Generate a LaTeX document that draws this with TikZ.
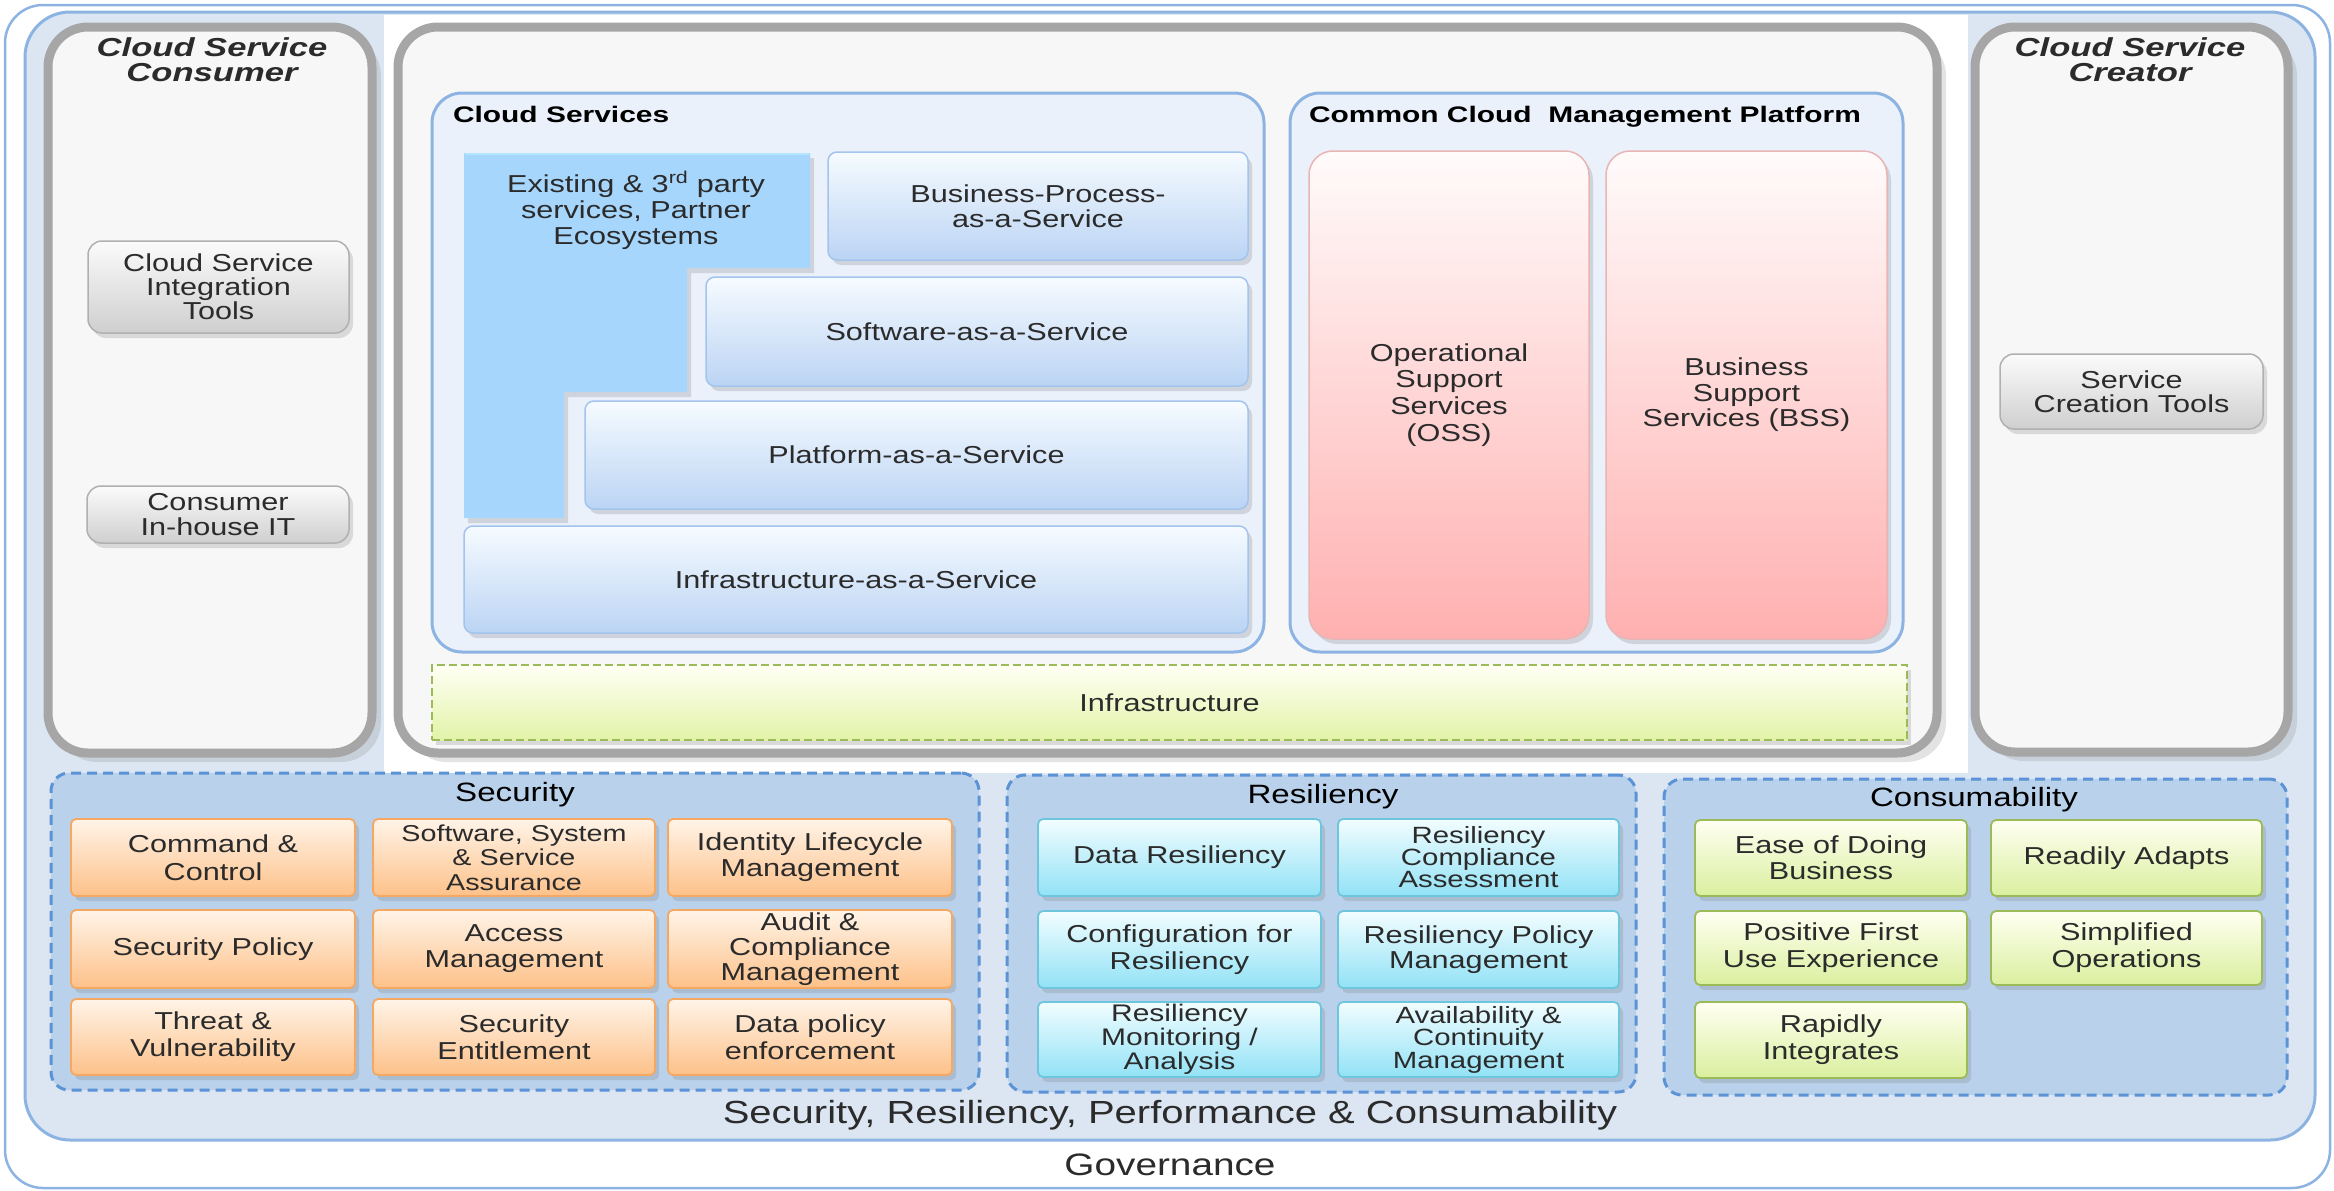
\documentclass[tikz,border=0pt]{standalone}
\usepackage{fontspec}
\setmainfont{Liberation Sans}[FakeStretch=1.25]
\newfontfamily\ttlfont{Liberation Sans}[FakeStretch=1.33]
\usetikzlibrary{shadows}
\definecolor{govline}{HTML}{8DB3E2}
\definecolor{srpcfill}{HTML}{DCE6F2}
\definecolor{panelfill}{HTML}{F7F7F7}
\definecolor{panelline}{HTML}{A6A6A6}
\definecolor{csfill}{HTML}{EAF1FB}
\definecolor{grpfill}{HTML}{B9D1EA}
\definecolor{grpline}{HTML}{5B93D6}
\definecolor{txt}{HTML}{2B2B2B}
\definecolor{exfill}{HTML}{A7D6FD}
\definecolor{svctop}{HTML}{F6FBFF}
\definecolor{svcbot}{HTML}{BBD4F4}
\definecolor{svcline}{HTML}{A3C4EC}
\definecolor{pinktop}{HTML}{FFFBFB}
\definecolor{pinkbot}{HTML}{FFB0B0}
\definecolor{pinkline}{HTML}{E8B4B4}
\definecolor{inftop}{HTML}{FFFFF4}
\definecolor{infbot}{HTML}{E2F3A8}
\definecolor{infline}{HTML}{9BBB59}
\definecolor{sectop}{HTML}{FFF4E8}
\definecolor{secbot}{HTML}{FDC189}
\definecolor{secline}{HTML}{F4A862}
\definecolor{restop}{HTML}{F2FDFF}
\definecolor{resbot}{HTML}{92E2F6}
\definecolor{resline}{HTML}{6EC6DC}
\definecolor{contop}{HTML}{FFFFF2}
\definecolor{conbot}{HTML}{DAEF9E}
\definecolor{conline}{HTML}{9BBB59}
\definecolor{tooltop}{HTML}{FBFBFB}
\definecolor{toolbot}{HTML}{CFCFCF}
\definecolor{toolline}{HTML}{B0B0B0}
\newcommand{\bodysize}{\fontsize{24.5}{27}\selectfont}
\newcommand{\bx}[7]{\node[#1, minimum width={(#5)-(#3)}, minimum height={(#6)-(#4)}] (#2) at ({((#3)+(#5))/2},{((#4)+(#6))/2}) {#7};}
\tikzset{
  every node/.style={inner sep=0pt, outer sep=0pt, align=center, text=txt},
  govframe/.style={draw=govline, line width=2.5pt, fill=white, rounded corners=38pt},
  srpcframe/.style={draw=govline, line width=3pt, fill=srpcfill, rounded corners=45pt},
  panel/.style={draw=panelline, line width=9pt, fill=panelfill, rounded corners=40pt,
     drop shadow={shadow xshift=9pt, shadow yshift=-9pt, opacity=0.22}},
  container/.style={draw=govline, line width=3pt, fill=csfill, rounded corners=30pt},
  softshadow/.style={drop shadow={shadow xshift=4pt, shadow yshift=-5pt, opacity=0.25}},
  svc/.style={top color=svctop, bottom color=svcbot, draw=svcline, line width=1.5pt, rounded corners=9pt, softshadow, font=\bodysize},
  pink/.style={top color=pinktop, bottom color=pinkbot, draw=pinkline, line width=1.5pt, rounded corners=24pt, softshadow, font=\bodysize},
  infra/.style={top color=inftop, bottom color=infbot, draw=infline, line width=2.5pt, dash pattern=on 8pt off 4pt, softshadow, font=\bodysize},
  tool/.style={top color=tooltop, bottom color=toolbot, draw=toolline, line width=1.5pt, rounded corners=14pt, softshadow, font=\bodysize},
  group/.style={draw=grpline, line width=3pt, fill=grpfill, dash pattern=on 10pt off 6pt, rounded corners=18pt},
  seccell/.style={top color=sectop, bottom color=secbot, draw=secline, line width=1.8pt, rounded corners=5pt, softshadow, font=\bodysize},
  rescell/.style={top color=restop, bottom color=resbot, draw=resline, line width=1.8pt, rounded corners=5pt, softshadow, font=\bodysize},
  concell/.style={top color=contop, bottom color=conbot, draw=conline, line width=1.8pt, rounded corners=5pt, softshadow, font=\bodysize},
  ls25/.style={font=\fontsize{24.5}{25}\selectfont},
  ls26/.style={font=\fontsize{24.5}{26}\selectfont},
  ls27/.style={font=\fontsize{24.5}{27}\selectfont},
  ls28/.style={font=\fontsize{24.5}{28}\selectfont},
  grplabel/.style={font=\fontsize{26.5}{30}\selectfont, text=black},
  biglabel/.style={font=\fontsize{32}{36}\selectfont},
  boxtitle/.style={font=\ttlfont\bfseries\fontsize{22.5}{26}\selectfont, text=black, anchor=base west},
  paneltitle/.style={font=\ttlfont\bfseries\itshape\fontsize{26}{25}\selectfont}
}
\begin{document}
\begin{tikzpicture}[x=1pt,y=-1pt]
\useasboundingbox (0,0) rectangle (2334,1191);
% governance and srpc frames
\bx{govframe}{gov}{5}{5}{2330}{1188}{}
\bx{srpcframe}{srpc}{25}{12}{2315}{1140}{}
% white backdrop of middle panel
\fill[white] (384,15) rectangle (1968,773);
% three panels
\bx{panel}{consumer}{48}{27}{372}{753}{}
\bx{panel}{middle}{398}{27}{1937}{753}{}
\bx{panel}{creator}{1975}{27}{2288}{752}{}
\node[paneltitle] (consumerT) at (212,60) {Cloud Service\\Consumer};
\node[paneltitle] (creatorT) at (2130,60) {Cloud Service\\Creator};
% consumer / creator tools
\bx{tool, font=\fontsize{24.5}{24}\selectfont}{integ}{88}{241}{349}{333}{Cloud Service\\Integration\\Tools}
\bx{tool, ls25}{inhouse}{87}{486}{349}{543}{Consumer\\In-house IT}
\bx{tool, font=\fontsize{24.5}{24}\selectfont}{creation}{2000}{354}{2263}{429}{Service\\Creation Tools}
% cloud services container
\bx{container}{cs}{432}{93}{1264}{652}{}
\node[boxtitle] (csT) at (453,122) {Cloud Services};
\fill[exfill, softshadow] (464,153) -- (810,153) -- (810,268) -- (687,268) -- (687,392) -- (564,392) -- (564,518) -- (464,518) -- cycle;
\draw[white!70!cyan, line width=2pt] (465,154) -- (809,154);
\node[ls26] (exist) at (636,210) {Existing \& 3\textsuperscript{rd} party\\services, Partner\\Ecosystems};
\bx{svc, ls25}{bpaas}{828}{152}{1248}{260}{Business-Process-\\as-a-Service}
\bx{svc}{saas}{706}{277}{1248}{386}{Software-as-a-Service}
\bx{svc}{paas}{585}{401}{1248}{509}{Platform-as-a-Service}
\bx{svc}{iaas}{464}{526}{1248}{633}{Infrastructure-as-a-Service}
% management platform
\bx{container}{ccmp}{1290}{93}{1903}{652}{}
\node[boxtitle] (ccmpT) at (1309,122) {Common Cloud\ \ Management Platform};
\bx{pink, font=\fontsize{24.5}{26.7}\selectfont}{oss}{1309}{151}{1589}{639}{Operational\\Support\\Services\\(OSS)}
\bx{pink, font=\fontsize{24.5}{25.5}\selectfont}{bss}{1606}{151}{1887}{639}{Business\\Support\\Services (BSS)}
% infrastructure bar
\bx{infra}{infra}{432}{665}{1907}{740}{Infrastructure}
% security group
\bx{group}{secG}{51}{773}{979}{1090}{}
\node[grplabel] (secL) at (515,795) {Security};
\bx{seccell, ls28}{s11}{71}{819}{355}{896}{Command \&\\Control}
\bx{seccell, font=\fontsize{23}{24.5}\selectfont}{s12}{373}{819}{655}{896}{Software, System\\\& Service\\Assurance}
\bx{seccell, ls26}{s13}{668}{819}{952}{896}{Identity Lifecycle\\Management}
\bx{seccell}{s21}{71}{910}{355}{988}{Security Policy}
\bx{seccell, ls26}{s22}{373}{910}{655}{988}{Access\\Management}
\bx{seccell, ls25}{s23}{668}{910}{952}{988}{Audit \&\\Compliance\\Management}
\bx{seccell, ls27}{s31}{71}{999}{355}{1075}{Threat \&\\Vulnerability}
\bx{seccell, ls27}{s32}{373}{999}{655}{1075}{Security\\Entitlement}
\bx{seccell, ls27}{s33}{668}{999}{952}{1075}{Data policy\\enforcement}
% resiliency group
\bx{group}{resG}{1007}{775}{1636}{1092}{}
\node[grplabel] (resL) at (1323,797) {Resiliency};
\bx{rescell}{r11}{1038}{819}{1321}{896}{Data Resiliency}
\bx{rescell, font=\fontsize{23.5}{22}\selectfont}{r12}{1338}{819}{1619}{896}{Resiliency\\Compliance\\Assessment}
\bx{rescell, ls27}{r21}{1038}{911}{1321}{988}{Configuration for\\Resiliency}
\bx{rescell, ls25}{r22}{1338}{911}{1619}{988}{Resiliency Policy\\Management}
\bx{rescell, font=\fontsize{24}{24}\selectfont}{r31}{1038}{1002}{1321}{1077}{Resiliency\\Monitoring /\\Analysis}
\bx{rescell, font=\fontsize{23.5}{22.5}\selectfont}{r32}{1338}{1002}{1619}{1077}{Availability \&\\Continuity\\Management}
% consumability group
\bx{group}{conG}{1664}{779}{2287}{1095}{}
\node[grplabel] (conL) at (1974,800) {Consumability};
\bx{concell, ls26}{c11}{1695}{820}{1967}{896}{Ease of Doing\\Business}
\bx{concell}{c12}{1991}{820}{2262}{896}{Readily Adapts}
\bx{concell, ls27}{c21}{1695}{911}{1967}{985}{Positive First\\Use Experience}
\bx{concell, ls27}{c22}{1991}{911}{2262}{985}{Simplified\\Operations}
\bx{concell, ls27}{c31}{1695}{1002}{1967}{1078}{Rapidly\\Integrates}
% bottom labels
\node[biglabel] (srpcL) at (1170,1115) {Security, Resiliency, Performance \& Consumability};
\node[font=\fontsize{31}{34}\selectfont] (govL) at (1170,1165) {Governance};
\end{tikzpicture}
\end{document}
